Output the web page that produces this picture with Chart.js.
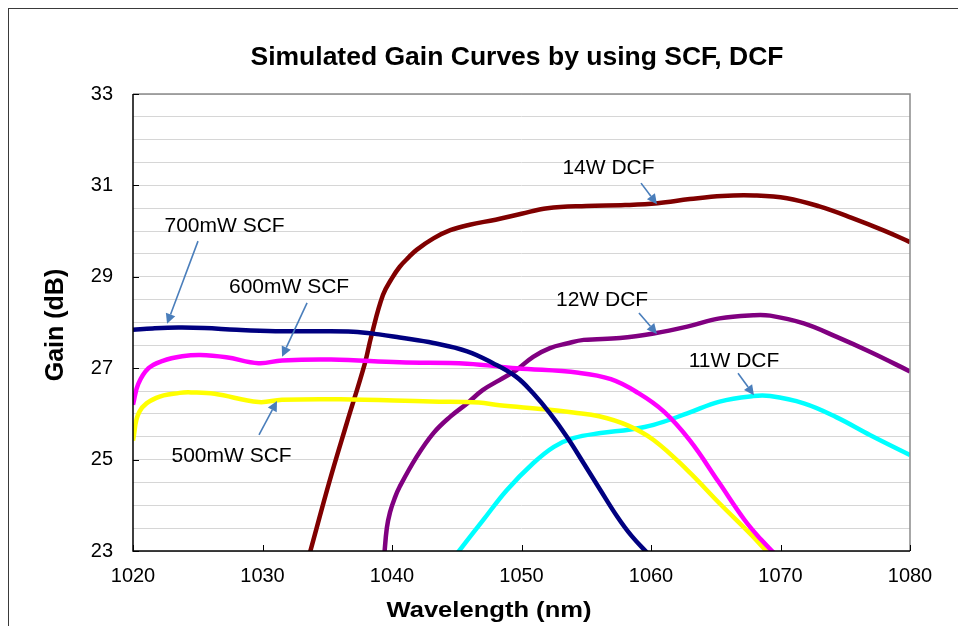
<!DOCTYPE html>
<html>
<head>
<meta charset="utf-8">
<title>Simulated Gain Curves</title>
<script src="https://cdn.jsdelivr.net/npm/chart.js@4.4.1/dist/chart.umd.min.js"></script>
<style>
  html, body { margin: 0; padding: 0; background: #fff; }
  #wrap { width: 958px; height: 626px; position: relative; }
</style>
</head>
<body>
<div id="wrap"><canvas id="gainChart"></canvas></div>
<script>
// wavelength (nm) and gain (dB)
const scf700X = [1020, 1021.5, 1023.5, 1025.5, 1028, 1031, 1034, 1037, 1039, 1040.6, 1043.2, 1045.8, 1047.8, 1049.6, 1050.9, 1052.2, 1053.5, 1054.8, 1056.1, 1057.4, 1058.5, 1059.9];
const scf700Y = [27.84, 27.87, 27.89, 27.88, 27.84, 27.81, 27.81, 27.80, 27.74, 27.67, 27.55, 27.37, 27.11, 26.81, 26.45, 26.01, 25.50, 24.92, 24.33, 23.75, 23.33, 22.9];

const scf600X = [1020, 1020.4, 1021.2, 1022.3, 1023.8, 1025.2, 1027.2, 1029.7, 1031.5, 1035.3, 1040.6, 1045.8, 1049.6, 1054.4, 1056.9, 1059, 1061, 1063, 1065.2, 1067.2, 1068.5, 1069.7];
const scf600Y = [26.2, 26.65, 27.0, 27.16, 27.26, 27.29, 27.24, 27.11, 27.17, 27.19, 27.13, 27.1, 27.0, 26.9, 26.76, 26.46, 26.05, 25.42, 24.52, 23.69, 23.25, 22.9];

const scf500X = [1020, 1020.5, 1021.8, 1023.6, 1024.6, 1026.3, 1029.7, 1031.5, 1036, 1043, 1046.7, 1048.3, 1051.8, 1054, 1056, 1058.2, 1060.2, 1062.8, 1065.3, 1067.9, 1069.2];
const scf500Y = [25.42, 26.05, 26.35, 26.46, 26.47, 26.44, 26.26, 26.31, 26.32, 26.27, 26.25, 26.19, 26.10, 26.03, 25.95, 25.75, 25.43, 24.77, 24.04, 23.31, 22.9];

const dcf14X = [1033.6, 1035.2, 1036.5, 1037.9, 1038.4, 1039.3, 1040, 1040.6, 1041.3, 1041.9, 1043.2, 1044.5, 1046, 1048, 1050, 1052, 1055, 1058, 1060.5, 1063, 1065.5, 1068, 1070.5, 1073, 1075.5, 1078, 1080];
const dcf14Y = [22.9, 24.55, 25.79, 27.1, 27.7, 28.6, 28.97, 29.22, 29.43, 29.59, 29.84, 30.02, 30.14, 30.25, 30.38, 30.5, 30.55, 30.57, 30.61, 30.70, 30.77, 30.78, 30.72, 30.54, 30.29, 30.01, 29.76];

const dcf12X = [1039.4, 1039.6, 1039.85, 1040.2, 1040.6, 1041.9, 1043.2, 1044.5, 1045.8, 1047, 1048.3, 1049.6, 1050.9, 1052.2, 1053.5, 1054.8, 1057.6, 1060.2, 1062.8, 1065.3, 1067.9, 1069.2, 1071.8, 1074.3, 1076.9, 1080];
const dcf12Y = [22.9, 23.5, 23.85, 24.15, 24.41, 25.06, 25.58, 25.94, 26.23, 26.52, 26.74, 26.96, 27.25, 27.44, 27.54, 27.62, 27.66, 27.76, 27.91, 28.09, 28.16, 28.15, 27.98, 27.69, 27.36, 26.93];

const dcf11X = [1044.9, 1047.05, 1048.86, 1050.9, 1052.5, 1054, 1056.1, 1058.4, 1060.2, 1062.8, 1065.3, 1067.9, 1069.2, 1071.8, 1074.3, 1076.9, 1080];
const dcf11Y = [22.9, 23.68, 24.33, 24.92, 25.28, 25.47, 25.58, 25.66, 25.76, 26.01, 26.27, 26.39, 26.39, 26.23, 25.93, 25.54, 25.10];

const seriesNames = ['700mW SCF', '600mW SCF', '500mW SCF', '14W DCF', '12W DCF', '11W DCF'];
const seriesColors = ['#000080', '#FF00FF', '#FFFF00', '#800000', '#800080', '#00FFFF'];
const xTicks = [1020, 1030, 1040, 1050, 1060, 1070, 1080];
const yTicks = [23, 25, 27, 29, 31, 33];

const FONT = '"Liberation Sans", Arial, Helvetica, sans-serif';

const pairs = [[scf700X, scf700Y], [scf600X, scf600Y], [scf500X, scf500Y], [dcf14X, dcf14Y], [dcf12X, dcf12Y], [dcf11X, dcf11Y]];
const datasets = pairs.map(([xs, ys], i) => ({
  label: seriesNames[i],
  data: xs.map((x, j) => ({ x: x, y: ys[j] })),
  borderColor: seriesColors[i],
  borderWidth: 4.5,
  pointRadius: 0,
  fill: false,
  tension: 0.4,
  clip: 0
}));

// callout labels with arrows, placed in data units
const callouts = [
  { text: '700mW SCF', at: [1027.07, 29.98], from: [1025.02, 29.78], to: [1022.63, 27.97] },
  { text: '600mW SCF', at: [1032.05, 28.65], from: [1033.44, 28.43], to: [1031.51, 27.25] },
  { text: '500mW SCF', at: [1027.61, 24.95], from: [1029.73, 25.54], to: [1031.12, 26.28] },
  { text: '14W DCF', at: [1056.72, 31.25], from: [1059.23, 31.05], to: [1060.46, 30.59] },
  { text: '12W DCF', at: [1056.22, 28.36], from: [1059.07, 28.21], to: [1060.46, 27.75] },
  { text: '11W DCF', at: [1066.41, 27.03], from: [1066.72, 26.89], to: [1067.95, 26.41] }
];

const decorations = {
  id: 'decorations',
  afterDraw(chart) {
    const ctx = chart.ctx;
    const xs = chart.scales.x, ys = chart.scales.y;
    const a = chart.chartArea;
    ctx.save();

    // outer chart border (runs off the right and bottom edges)
    ctx.strokeStyle = '#3a3a3a';
    ctx.lineWidth = 1;
    ctx.strokeRect(8.5, 8.5, 1000, 700);

    // plot frame: grey top/right, black axes left/bottom
    ctx.lineWidth = 1.5;
    ctx.strokeStyle = '#8a8a8a';
    ctx.beginPath();
    ctx.moveTo(a.left, a.top);
    ctx.lineTo(a.right, a.top);
    ctx.lineTo(a.right, a.bottom);
    ctx.stroke();
    ctx.strokeStyle = '#000';
    ctx.beginPath();
    ctx.moveTo(a.left, a.top);
    ctx.lineTo(a.left, a.bottom);
    ctx.lineTo(a.right, a.bottom);
    ctx.stroke();

    // inward tick marks
    ctx.lineWidth = 1;
    ctx.beginPath();
    yTicks.forEach(v => {
      const p = Math.round(ys.getPixelForValue(v)) + 0.5;
      ctx.moveTo(a.left, p);
      ctx.lineTo(a.left + 6, p);
    });
    xTicks.forEach(v => {
      const p = Math.round(xs.getPixelForValue(v)) + 0.5;
      ctx.moveTo(p, a.bottom);
      ctx.lineTo(p, a.bottom - 6);
    });
    ctx.stroke();

    // callouts
    ctx.font = '21px ' + FONT;
    ctx.textAlign = 'center';
    ctx.textBaseline = 'alphabetic';
    callouts.forEach(c => {
      ctx.fillStyle = '#000';
      ctx.fillText(c.text, xs.getPixelForValue(c.at[0]), ys.getPixelForValue(c.at[1]));
      const x1 = xs.getPixelForValue(c.from[0]), y1 = ys.getPixelForValue(c.from[1]);
      const x2 = xs.getPixelForValue(c.to[0]), y2 = ys.getPixelForValue(c.to[1]);
      const ang = Math.atan2(y2 - y1, x2 - x1);
      const head = 10, half = 5;
      const bx = x2 - head * Math.cos(ang), by = y2 - head * Math.sin(ang);
      ctx.strokeStyle = '#4a7ebb';
      ctx.fillStyle = '#4a7ebb';
      ctx.lineWidth = 1.6;
      ctx.beginPath();
      ctx.moveTo(x1, y1);
      ctx.lineTo(bx, by);
      ctx.stroke();
      ctx.beginPath();
      ctx.moveTo(x2, y2);
      ctx.lineTo(bx + half * Math.sin(ang), by - half * Math.cos(ang));
      ctx.lineTo(bx - half * Math.sin(ang), by + half * Math.cos(ang));
      ctx.closePath();
      ctx.fill();
    });

    // chart title
    ctx.fillStyle = '#000';
    ctx.textAlign = 'center';
    ctx.textBaseline = 'alphabetic';
    ctx.font = 'bold 26.5px ' + FONT;
    ctx.fillText('Simulated Gain Curves by using SCF, DCF', 517, 65);

    // x axis title (stretched like the original)
    ctx.font = 'bold 22px ' + FONT;
    const xt = 'Wavelength (nm)';
    const w = ctx.measureText(xt).width;
    ctx.save();
    ctx.translate(489, 617);
    ctx.scale(205 / w, 1);
    ctx.fillText(xt, 0, 0);
    ctx.restore();

    // y axis title
    ctx.save();
    ctx.translate(63, 325);
    ctx.rotate(-Math.PI / 2);
    ctx.font = 'bold 25px ' + FONT;
    ctx.fillText('Gain (dB)', 0, 0);
    ctx.restore();

    ctx.restore();
  }
};

new Chart(document.getElementById('gainChart'), {
  type: 'line',
  data: { datasets: datasets },
  options: {
    responsive: true,
    maintainAspectRatio: false,
    animation: false,
    layout: { padding: { top: 94, right: 48, bottom: 0, left: 0 } },
    plugins: {
      legend: { display: false },
      title: { display: false },
      tooltip: { enabled: false }
    },
    scales: {
      x: {
        type: 'linear',
        min: 1020,
        max: 1080,
        afterBuildTicks: s => { s.ticks = xTicks.map(v => ({ value: v })); },
        ticks: {
          color: '#000',
          font: { family: FONT, size: 20 },
          padding: 13,
          maxRotation: 0,
          autoSkip: false,
          callback: v => String(v)
        },
        grid: { display: false, drawTicks: false },
        border: { display: false },
        afterFit: s => { s.height = 75; }
      },
      y: {
        min: 23,
        max: 33,
        ticks: {
          stepSize: 0.5,
          autoSkip: false,
          color: '#000',
          font: { family: FONT, size: 20 },
          padding: 20,
          callback: v => (yTicks.includes(v) ? String(v) : '')
        },
        grid: { color: '#d6d6d6', lineWidth: 1, drawTicks: false },
        border: { display: false },
        afterFit: s => { s.width = 133; }
      }
    }
  },
  plugins: [decorations]
});
</script>
</body>
</html>
